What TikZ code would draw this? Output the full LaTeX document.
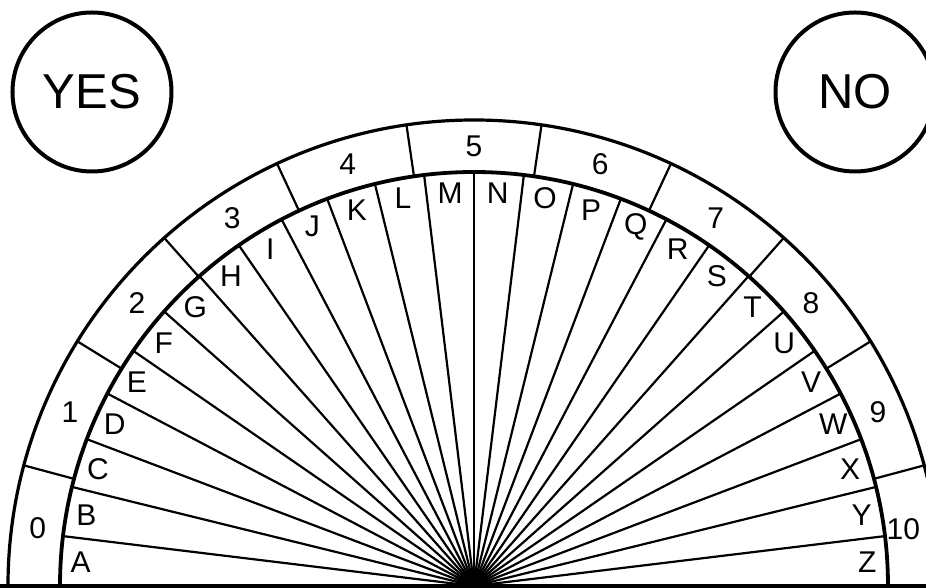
\documentclass[tikz,border=0pt]{standalone}
\usepackage{fontspec}
\setmainfont{Liberation Sans}
\usetikzlibrary{positioning}

\begin{document}
\begin{tikzpicture}[x=1pt, y=1pt,
    glyph/.style={font=\fontsize{30}{32}\selectfont, inner sep=0pt},
    answer/.style={draw, circle, line width=4pt, minimum size=159pt,
                   inner sep=0pt, font=\fontsize{49}{51}\selectfont},
    rim/.style={line width=3.2pt},
    spoke/.style={line width=2.2pt}]
  \useasboundingbox (-474,-2) rectangle (452,586);
  \clip (-474,-2) rectangle (452,586);
  \coordinate (hub) at (0,0);
  % answer circles
  \node[answer] (yes) at (-382,494) {YES};
  \node[answer] (no) at (381,494) {NO};
  % letter spokes
  \foreach \k in {1,...,25}
    \draw[spoke] (hub) -- ({\k*180/26}:414);
  % number ring
  \foreach \k in {0,...,9}
    \draw[spoke] ({15+\k*50/3}:414) -- ({15+\k*50/3}:466);
  \draw[rim] (180:466) arc[start angle=180, end angle=0, radius=466];
  \draw[rim, line width=3.8pt] (180:414) arc[start angle=180, end angle=0, radius=414];
  \draw[rim] (-474,0) -- (452,0);
  % labels
  \foreach \c [count=\i from 0] in {A,...,Z}
    \node[glyph] (l-\c) at ({180-(\i+0.5)*180/26}:394) {\c};
  \node[glyph] (n-0) at (172.5:440) {0};
  \foreach \n in {1,...,9}
    \node[glyph] (n-\n) at ({165-(\n-0.5)*50/3}:440) {\n};
  \node[glyph] (n-10) at (7.5:433) {10};
\end{tikzpicture}
\end{document}
